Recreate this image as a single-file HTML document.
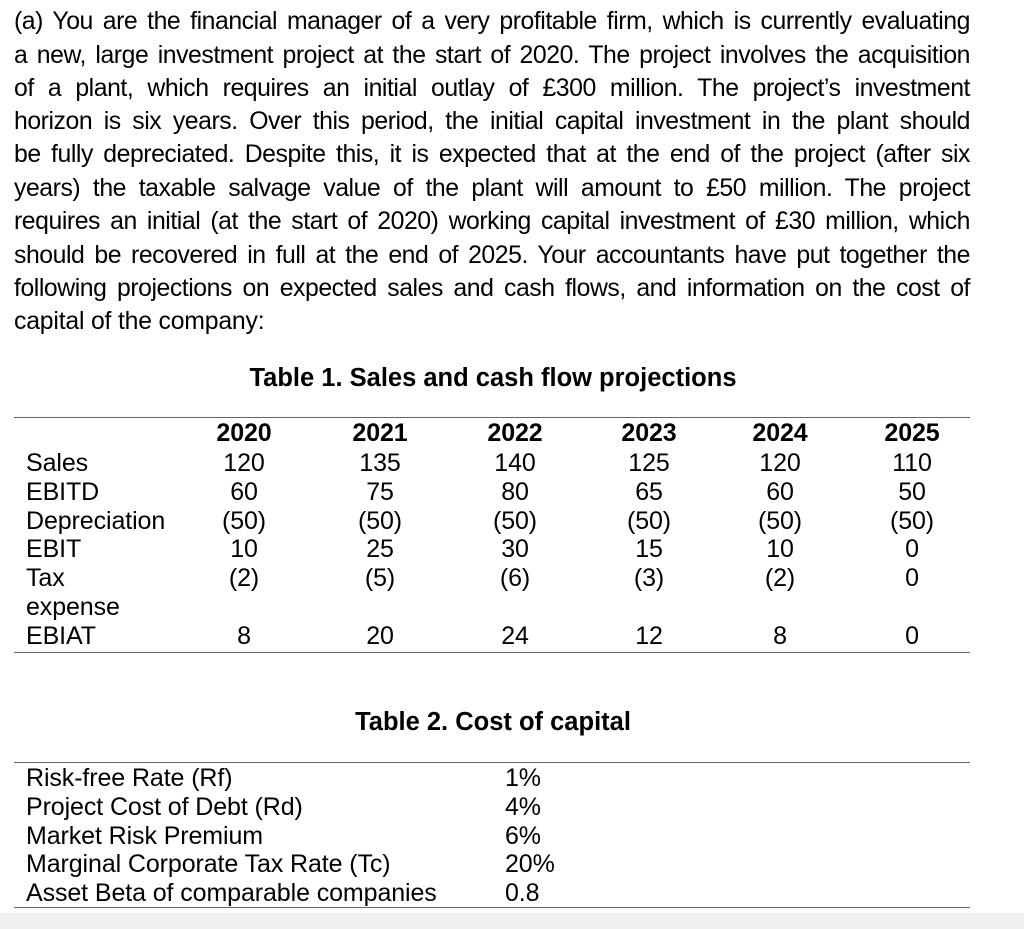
<!DOCTYPE html>
<html><head><meta charset="utf-8"><style>
body{margin:0;width:1024px;height:929px;background:#fff;position:relative;overflow:hidden;font-family:"Liberation Sans",Arial,sans-serif;color:#000}
.l{position:absolute;left:14px;width:956px;font-size:24.8px;letter-spacing:-0.45px;word-spacing:-1px;line-height:26px;text-align:justify;text-align-last:justify;white-space:nowrap}
.l.last{text-align-last:left;letter-spacing:-0.2px;word-spacing:0}
.t{position:absolute;font-size:25px;letter-spacing:-0.1px;line-height:26px;white-space:nowrap}
.b{font-weight:bold}
.ttl{font-size:25.5px;letter-spacing:0}
.c{transform:translateX(-50%)}
.rule{position:absolute;left:14px;width:956px;height:1px;background:#666}
</style></head><body>
<div>
<div class="l" style="top:9px">(a) You are the financial manager of a very profitable firm, which is currently evaluating</div>
<div class="l" style="top:43px">a new, large investment project at the start of 2020. The project involves the acquisition</div>
<div class="l" style="top:76px">of a plant, which requires an initial outlay of £300 million. The project’s investment</div>
<div class="l" style="top:109px">horizon is six years. Over this period, the initial capital investment in the plant should</div>
<div class="l" style="top:142px">be fully depreciated. Despite this, it is expected that at the end of the project (after six</div>
<div class="l" style="top:176px">years) the taxable salvage value of the plant will amount to £50 million. The project</div>
<div class="l" style="top:209px">requires an initial (at the start of 2020) working capital investment of £30 million, which</div>
<div class="l" style="top:243px">should be recovered in full at the end of 2025. Your accountants have put together the</div>
<div class="l" style="top:276px">following projections on expected sales and cash flows, and information on the cost of</div>
<div class="l last" style="top:309px">capital of the company:</div>
</div>
<div class="t b c ttl" style="left:493px;top:365px">Table 1. Sales and cash flow projections</div>
<div class="rule" style="top:417px"></div>
<div id="t1"></div>
<div class="rule" style="top:652px"></div>
<div class="t b c ttl" style="left:493px;top:709px">Table 2. Cost of capital</div>
<div class="rule" style="top:762px"></div>
<div id="t2"></div>
<div class="rule" style="top:907px"></div>
<div style="position:absolute;left:0;top:913px;width:1024px;height:16px;background:#f0f0f0"></div>
<script>
const years=["2020","2021","2022","2023","2024","2025"];
const rowLabels=["Sales","EBITD","Depreciation","EBIT","Tax","EBIAT"];
const sales=["120","135","140","125","120","110"];
const ebitd=["60","75","80","65","60","50"];
const dep=["(50)","(50)","(50)","(50)","(50)","(50)"];
const ebit=["10","25","30","15","10","0"];
const tax=["(2)","(5)","(6)","(3)","(2)","0"];
const ebiat=["8","20","24","12","8","0"];
const t2Labels=["Risk-free Rate (Rf)","Project Cost of Debt (Rd)","Market Risk Premium","Marginal Corporate Tax Rate (Tc)","Asset Beta of comparable companies"];
const t2Values=["1%","4%","6%","20%","0.8"];
const colX=[244,380,515,649,780,912];
const rowY=[450,479,508,536,565,623];
const t1=document.getElementById('t1');
function mk(parent,txt,cls,left,top){const d=document.createElement('div');d.className='t '+cls;d.style.left=left+'px';d.style.top=top+'px';d.textContent=txt;parent.appendChild(d);return d;}
years.forEach((y,i)=>{const d=mk(t1,y,'b c',colX[i],420);

});
const data=[sales,ebitd,dep,ebit,tax,ebiat];
rowLabels.forEach((r,ri)=>{const d=mk(t1,r,'',26,rowY[ri]);


data[ri].forEach((v,ci)=>{const e=mk(t1,v,'c',colX[ci],rowY[ri]);

});});
const ex=mk(t1,'expense','',26,594);


const t2=document.getElementById('t2');
t2Labels.forEach((l,i)=>{const y=765+i*28.8;
const a=mk(t2,l,'',26,y);


const b=mk(t2,t2Values[i],'',505,y);

});
</script>
</body></html>
